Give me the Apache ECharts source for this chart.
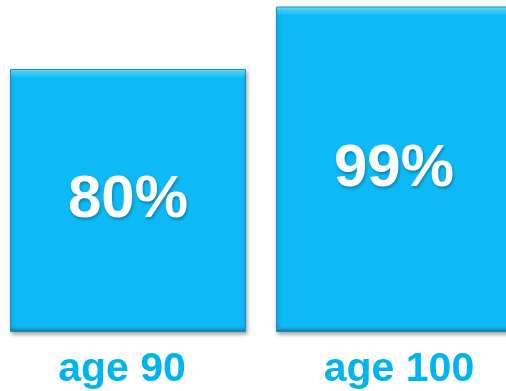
<!DOCTYPE html>
<html><head><meta charset="utf-8">
<script src="https://cdn.jsdelivr.net/npm/echarts@6/dist/echarts.min.js"></script>
<style>html,body{margin:0;padding:0;background:#fff;overflow:hidden;width:506px;height:391px;position:relative}#c{position:absolute;left:-5px;top:0;width:532px;height:391px}</style>
</head><body><div id="c"></div>
<script>
var categories = ['age 90', 'age 100'];
var values = [80, 99];
var labels = ['80%', '99%'];

function barGrad(h) {
  var t = 9 / h, b = 6 / h;
  return new echarts.graphic.LinearGradient(0, 0, 0, 1, [
    {offset: 0, color: '#8AEBFF'},
    {offset: t * 0.4, color: '#45D6FF'},
    {offset: t, color: '#0DBAF5'},
    {offset: 1 - b, color: '#0DBAF5'},
    {offset: 1 - b * 0.5, color: '#1AA2D2'},
    {offset: 1, color: '#136F90'}
  ]);
}
var pxPerUnit = 328.75 / 100;
var chart = echarts.init(document.getElementById('c'));
chart.setOption({
  animation: false,
  grid: {left: 0, right: 0, top: 3.25, bottom: 59, containLabel: false},
  xAxis: {
    type: 'category',
    data: categories.map(function (c, i) {
      return {value: c, textStyle: {padding: i === 0 ? [0, 12, 0, 0] : [0, 0, 0, 10]}};
    }),
    axisLine: {show: false}, axisTick: {show: false},
    axisLabel: {color: '#00B4F0', fontFamily: 'Liberation Sans, Arial', fontWeight: 'bold', fontSize: 41, margin: 17}
  },
  yAxis: {type: 'value', min: 0, max: 100, show: false, splitLine: {show: false}},
  series: [{
    type: 'bar',
    barWidth: 236,
    data: values.map(function (v, i) {
      return {value: v, itemStyle: {color: barGrad(v * pxPerUnit)}};
    }),
    itemStyle: {
      borderColor: '#1790BC', borderWidth: 1,
      shadowColor: 'rgba(0,0,0,0.35)', shadowBlur: 4, shadowOffsetX: 1, shadowOffsetY: 2
    },
    label: {
      show: true, position: 'inside',
      formatter: function (p) { return labels[p.dataIndex]; },
      color: '#fff', fontFamily: 'Liberation Sans, Arial', fontWeight: 'bold', fontSize: 60,
      textShadowColor: 'rgba(0,0,0,0.3)', textShadowBlur: 3, textShadowOffsetX: 1, textShadowOffsetY: 2
    }
  }]
});
</script></body></html>
